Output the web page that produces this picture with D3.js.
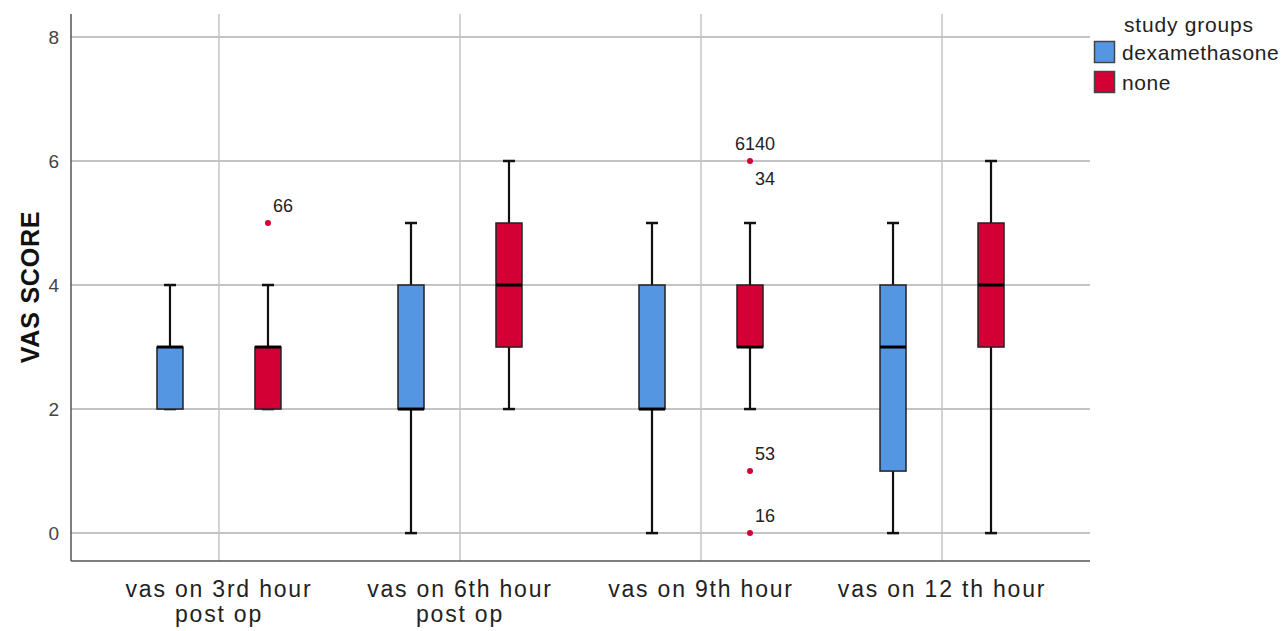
<!DOCTYPE html>
<html>
<head>
<meta charset="utf-8">
<script src="https://cdn.jsdelivr.net/npm/d3@7/dist/d3.min.js"></script>
<style>
body { margin: 0; background: #fff; }
text { font-family: "Liberation Sans", Arial, sans-serif; }
</style>
</head>
<body>
<div class="holder"></div>
<script>
// categories and groups
var categories = ['vas on 3rd hour post op', 'vas on 6th hour post op', 'vas on 9th hour', 'vas on 12 th hour']
var catLines = [['vas on 3rd hour', 'post op'], ['vas on 6th hour', 'post op'], ['vas on 9th hour'], ['vas on 12 th hour']]
var groups = ['dexamethasone', 'none']
var yTicks = [0, 2, 4, 6, 8]

// box stats per category: [whiskerLow, q1, median, q3, whiskerHigh]
var dexStats = [[2, 2, 3, 3, 4], [0, 2, 2, 4, 5], [0, 2, 2, 4, 5], [0, 1, 3, 4, 5]]
var noneStats = [[2, 2, 3, 3, 4], [2, 3, 4, 5, 6], [2, 3, 3, 4, 5], [0, 3, 4, 5, 6]]

// outliers: category index, group index, value, case labels
var outliers = [
  { cat: 0, grp: 1, value: 5, labels: ['66'] },
  { cat: 2, grp: 1, value: 6, labels: ['40', '61', '34'] },
  { cat: 2, grp: 1, value: 1, labels: ['53'] },
  { cat: 2, grp: 1, value: 0, labels: ['16'] }
]

var colors = ['#5596e3', '#d30036']

var W = 1288, H = 631
var mLeft = 71, mRight = 1090, mTop = 14, mBottom = 561

var svg = d3.select('.holder').append('svg')
  .attr('width', W)
  .attr('height', H)

var yScale = d3.scaleLinear().domain([-0.45, 8.37]).range([mBottom, mTop])
var xScale = d3.scalePoint().domain(categories).range([mLeft, mRight]).padding(0.614)
var grpOffset = d3.scalePoint().domain(groups).range([-49, 49])

// grid lines
svg.append('g').selectAll('line.hgrid')
  .data(yTicks).enter().append('line')
  .attr('x1', mLeft).attr('x2', mRight)
  .attr('y1', function(d) { return yScale(d) })
  .attr('y2', function(d) { return yScale(d) })
  .attr('stroke', '#c4c4c4').attr('stroke-width', 2)

svg.append('g').selectAll('line.vgrid')
  .data(categories).enter().append('line')
  .attr('x1', function(d) { return xScale(d) })
  .attr('x2', function(d) { return xScale(d) })
  .attr('y1', mTop).attr('y2', mBottom)
  .attr('stroke', '#c4c4c4').attr('stroke-width', 1.5)

// y axis
var yAxis = d3.axisLeft(yScale).tickValues(yTicks).tickSize(0).tickPadding(12)
var yG = svg.append('g').attr('transform', 'translate(' + mLeft + ',0)').call(yAxis)
yG.select('.domain').remove()
yG.selectAll('text').style('font-size', '19px').attr('fill', '#444')

// axis lines
svg.append('line').attr('x1', mLeft).attr('x2', mLeft).attr('y1', mTop).attr('y2', mBottom)
  .attr('stroke', '#555').attr('stroke-width', 1.5)
svg.append('line').attr('x1', mLeft).attr('x2', mRight).attr('y1', mBottom).attr('y2', mBottom)
  .attr('stroke', '#555').attr('stroke-width', 1.5)

// x labels, one text per line
var xg = svg.append('g').selectAll('g.xlab')
  .data(categories).enter().append('g')
xg.each(function(d, i) {
  var g = d3.select(this)
  catLines[i].forEach(function(s, j) {
    g.append('text')
      .attr('x', xScale(d))
      .attr('y', 597 + j * 25)
      .attr('text-anchor', 'middle')
      .style('font-size', '23px')
      .style('letter-spacing', '1.8px')
      .attr('fill', '#222')
      .text(s)
  })
})

// y title
svg.append('text')
  .attr('transform', 'translate(39,' + (yScale(4) + 2) + ') rotate(-90)')
  .attr('text-anchor', 'middle')
  .style('font-size', '25px')
  .style('font-weight', 'bold')
  .style('letter-spacing', '0.8px')
  .attr('fill', '#111')
  .text('VAS SCORE')

// boxes
var boxes = []
categories.forEach(function(c, i) {
  boxes.push({ cat: c, grp: 0, s: dexStats[i] })
  boxes.push({ cat: c, grp: 1, s: noneStats[i] })
})

var bw = 26, cap = 12
var bg = svg.append('g').selectAll('g.box')
  .data(boxes).enter().append('g')
  .attr('transform', function(d) {
    return 'translate(' + (xScale(d.cat) + grpOffset(groups[d.grp])) + ',0)'
  })

bg.append('line')
  .attr('x1', 0).attr('x2', 0)
  .attr('y1', function(d) { return yScale(d.s[0]) })
  .attr('y2', function(d) { return yScale(d.s[4]) })
  .attr('stroke', '#111').attr('stroke-width', 2.2)

bg.selectAll('line.cap')
  .data(function(d) { return [d.s[0], d.s[4]] })
  .enter().append('line')
  .attr('x1', -cap / 2).attr('x2', cap / 2)
  .attr('y1', function(v) { return yScale(v) })
  .attr('y2', function(v) { return yScale(v) })
  .attr('stroke', '#111').attr('stroke-width', 2.5)

bg.append('rect')
  .attr('x', -bw / 2)
  .attr('width', bw)
  .attr('y', function(d) { return yScale(d.s[3]) })
  .attr('height', function(d) { return yScale(d.s[1]) - yScale(d.s[3]) })
  .attr('fill', function(d) { return colors[d.grp] })
  .attr('stroke', '#222').attr('stroke-width', 1.5)

bg.append('line')
  .attr('x1', -bw / 2).attr('x2', bw / 2)
  .attr('y1', function(d) { return yScale(d.s[2]) })
  .attr('y2', function(d) { return yScale(d.s[2]) })
  .attr('stroke', '#000').attr('stroke-width', 3)

// outliers
var og = svg.append('g').selectAll('g.out')
  .data(outliers).enter().append('g')
  .attr('transform', function(d) {
    return 'translate(' + (xScale(categories[d.cat]) + grpOffset(groups[d.grp])) + ',' + yScale(d.value) + ')'
  })
og.append('circle').attr('r', 3).attr('fill', colors[1])
og.each(function(d) {
  var g = d3.select(this)
  d.labels.forEach(function(l, k) {
    var pos = [[5, -11, 'start'], [5, -11, 'end'], [5, 24, 'start']][k]
    g.append('text').attr('x', pos[0]).attr('y', pos[1])
      .attr('text-anchor', pos[2])
      .style('font-size', '18px').attr('fill', '#222')
      .text(l)
  })
})

// legend
var lg = svg.append('g')
lg.append('text').attr('x', 1124).attr('y', 32).style('font-size', '21px')
  .style('letter-spacing', '0.8px').attr('fill', '#222').text('study groups')
var li = lg.selectAll('g.item').data(groups).enter().append('g')
  .attr('transform', function(d, i) { return 'translate(1094,' + (41 + i * 30) + ')' })
li.append('rect').attr('x', 0.5).attr('y', 0.5).attr('width', 20).attr('height', 21)
  .attr('fill', function(d, i) { return colors[i] })
  .attr('stroke', '#444').attr('stroke-width', 1.5)
li.append('text').attr('x', 28).attr('y', 19).style('font-size', '21px')
  .style('letter-spacing', '0.6px').attr('fill', '#222')
  .text(function(d) { return d })
</script>
</body>
</html>
